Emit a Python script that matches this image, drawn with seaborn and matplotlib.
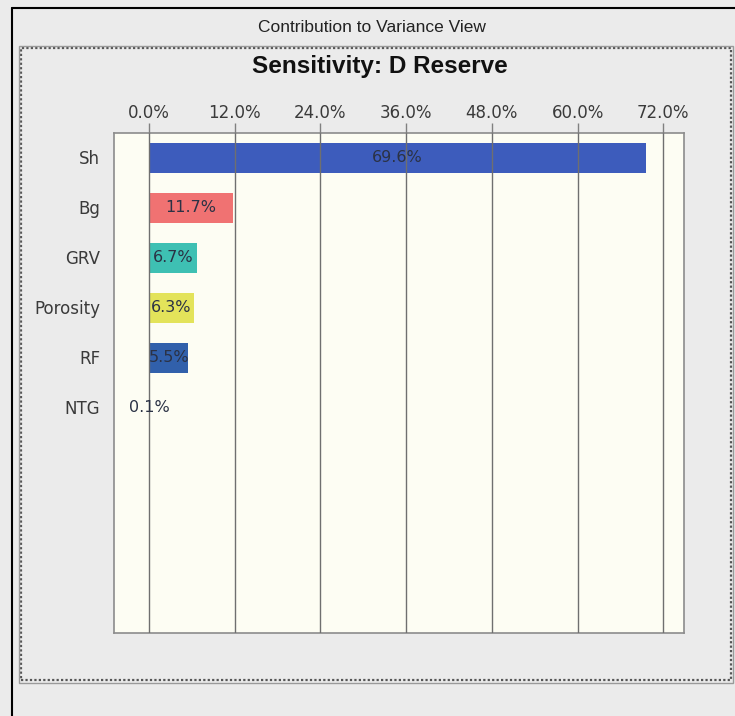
import numpy as np
import pandas as pd
import seaborn as sns
import matplotlib.pyplot as plt
from matplotlib.lines import Line2D
from matplotlib.patches import Rectangle

# data
factors = ["Sh", "Bg", "GRV", "Porosity", "RF", "NTG"]
contribution = [69.6, 11.7, 6.7, 6.3, 5.5, 0.1]
bar_colors = ["#3d5cbc", "#f07272", "#3ec0b3", "#e3e35a", "#3160ab", "#9a9a9a"]
x_ticks = [0, 12, 24, 36, 48, 60, 72]

df = pd.DataFrame({"factor": factors, "contribution": contribution})

sns.set_theme(style="white")
plt.rcParams['font.family'] = ['DejaVu Sans']

W, H = 735, 716
fig = plt.figure(figsize=(W / 100, H / 100), dpi=100)
fig.patch.set_facecolor("#ebebeb")

# axes placed in pixel terms
left, right, top, bottom = 114, 684, 133, 633
ax = fig.add_axes([left / W, (H - bottom) / H, (right - left) / W, (bottom - top) / H])
ax.set_facecolor("#fdfdf3")

sns.barplot(data=df, x="contribution", y="factor", hue="factor", palette=bar_colors,
            orient="h", width=0.6, legend=False, ax=ax, zorder=2, saturation=1,
            linewidth=0)

for cont in ax.containers:
    ax.bar_label(cont, labels=[f"{v:.1f}%" for v in cont.datavalues], label_type="center",
                 fontsize=11.5, color="#2b3245", zorder=5)

ax.set_xlim(-4.9, 74.9)
ax.set_ylim(9.51, -0.49)
ax.set_xticks(x_ticks)
ax.set_xticklabels([f"{t:.1f}%" for t in x_ticks])
ax.xaxis.tick_top()
ax.tick_params(axis="x", top=True, bottom=False, length=7, width=1, color="#808080",
               labelsize=12, labelcolor="#3a3a3a", pad=1)
ax.tick_params(axis="y", left=False, labelsize=12, labelcolor="#3a3a3a", pad=4)
ax.set_axisbelow(False)
ax.grid(axis="x", color="#6f6f6f", linewidth=1, zorder=4)
ax.set_xlabel("")
ax.set_ylabel("")
for s in ax.spines.values():
    s.set_color("#8c8c8c")
    s.set_linewidth(1.2)

# window decoration
def px(x, y):
    return x / W, 1 - y / H

fig.add_artist(Line2D([px(12, 0)[0], px(12, 0)[0]], [0, px(0, 8)[1]], color="black", lw=1.5))
fig.add_artist(Line2D([px(12, 0)[0], 1], [px(0, 8)[1], px(0, 8)[1]], color="black", lw=1.5))
x0, y0 = px(21, 680)
x1, y1 = px(731, 48)
fig.add_artist(Rectangle((x0, y0), x1 - x0, y1 - y0, transform=fig.transFigure,
                         fill=False, edgecolor="#555555", lw=1.6, linestyle=(0, (1, 1))))
x0b, y0b = px(19, 683)
x1b, y1b = px(733, 46)
fig.add_artist(Rectangle((x0b, y0b), x1b - x0b, y1b - y0b, transform=fig.transFigure,
                         fill=False, edgecolor="#9a9a9a", lw=1))

fig.text(*px(372, 28), "Contribution to Variance View", ha="center", va="center",
         fontsize=12.5, color="#222222",
         family=["Liberation Sans Narrow", "Liberation Sans", "DejaVu Sans"])
fig.text(*px(380, 66), "Sensitivity: D Reserve", ha="center", va="center",
         fontsize=17.5, fontweight="bold", color="#111111",
         family=["Liberation Sans", "DejaVu Sans"])

fig.savefig("out.png", dpi=100, facecolor=fig.get_facecolor())
